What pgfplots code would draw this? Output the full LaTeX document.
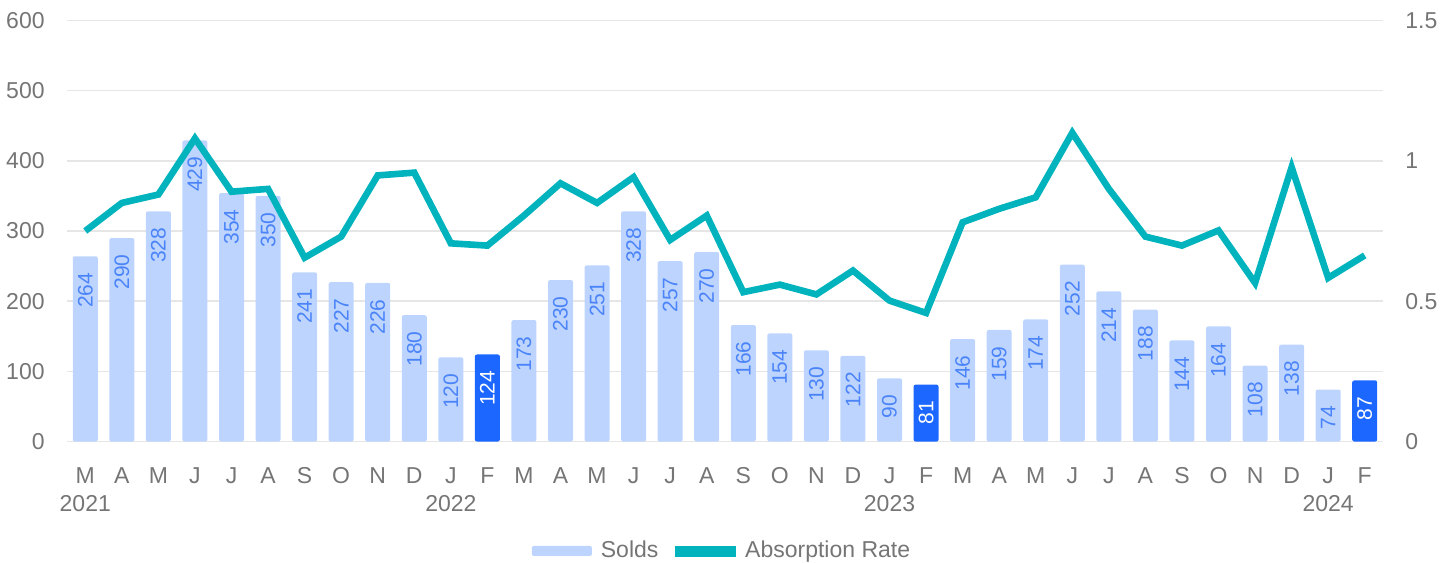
\documentclass[border=0pt]{standalone}
\usepackage{fontspec}
\setmainfont{Liberation Sans}
\usepackage{pgfplots}
\pgfplotsset{compat=1.18}
\definecolor{barlight}{HTML}{BDD4FE}
\definecolor{bardark}{HTML}{1C67FF}
\definecolor{lbl}{HTML}{4A84F8}
\definecolor{linec}{HTML}{00B3BD}
\definecolor{tickgray}{HTML}{757575}
\definecolor{gridc}{HTML}{E6E6E6}
\begin{document}
\begin{tikzpicture}[font=\fontsize{11.5}{14}\selectfont]
\begin{axis}[
  at={(33.5pt,60.25pt)}, anchor=south west,
  scale only axis, width=658pt, height=210.5pt,
  xmin=-0.5, xmax=35.5, ymin=0, ymax=600,
  ytick={0,100,...,600},
  xtick={0,...,35},
  xticklabels={{M\\2021},A,M,J,J,A,S,O,N,D,{J\\2022},F,M,A,M,J,J,A,S,O,N,D,{J\\2023},F,M,A,M,J,J,A,S,O,N,D,{J\\2024},F},
  axis line style={draw=none},
  major tick length=0pt,
  ymajorgrids, grid style={gridc, line width=0.75pt},
  tick label style={font=\fontsize{11.5}{14}\selectfont, text=tickgray},
  xticklabel style={align=center, anchor=north, inner sep=0pt, yshift=-12.75pt},
  yticklabel style={anchor=east, inner sep=0pt, xshift=-11pt},
  /pgf/number format/assume math mode=true,
  ybar, bar width=12.5pt,
  legend style={at={(0.4985,-0.26)}, anchor=center, draw=none, fill=none, legend columns=2,
    font=\fontsize{11.5}{14}\selectfont, text=tickgray,
    /tikz/every odd column/.append style={column sep=2.5pt},
    /tikz/every even column/.append style={column sep=6.5pt}},
  legend cell align=left,
]
\addplot[fill=barlight, draw=none, bar shift=0pt, rounded corners=1pt,
  nodes near coords,
  every node near coord/.append style={rotate=90, anchor=east, inner xsep=8pt, inner ysep=0pt,
     font=\fontsize{10.5}{12}\selectfont, text=lbl},
  legend image code/.code={\fill[barlight] (0pt,-2.5pt) rectangle (30pt,2.5pt);}]
coordinates {
(0,264) (1,290) (2,328) (3,429) (4,354) (5,350) (6,241) (7,227) (8,226) (9,180) (10,120)
(12,173) (13,230) (14,251) (15,328) (16,257) (17,270) (18,166) (19,154) (20,130) (21,122) (22,90)
(24,146) (25,159) (26,174) (27,252) (28,214) (29,188) (30,144) (31,164) (32,108) (33,138) (34,74)
};
\addlegendentry{Solds}
\addplot[fill=bardark, draw=none, bar shift=0pt, rounded corners=1pt, forget plot,
  nodes near coords,
  every node near coord/.append style={rotate=90, anchor=east, inner xsep=8pt, inner ysep=0pt,
     font=\fontsize{10.5}{12}\selectfont, text=white}]
coordinates {(11,124) (23,81) (35,87)};
\addlegendimage{legend image code/.code={\fill[linec] (0pt,-2.5pt) rectangle (30pt,2.5pt);}}
\addlegendentry{Absorption Rate}
\end{axis}
\begin{axis}[
  at={(33.5pt,60.25pt)}, anchor=south west,
  scale only axis, width=658pt, height=210.5pt,
  xmin=-0.5, xmax=35.5, ymin=0, ymax=1.5,
  ytick={0,0.5,1,1.5},
  xtick=\empty,
  yticklabel pos=right,
  axis line style={draw=none},
  major tick length=0pt,
  tick label style={font=\fontsize{11.5}{14}\selectfont, text=tickgray},
  yticklabel style={anchor=west, inner sep=0pt, xshift=11pt},
  /pgf/number format/assume math mode=true,
]
\addplot[linec, line width=3.3pt, line join=miter, mark=none] coordinates {
(0,0.75) (1,0.85) (2,0.88) (3,1.08) (4,0.89) (5,0.90) (6,0.655) (7,0.73) (8,0.948) (9,0.958)
(10,0.706) (11,0.698) (12,0.805) (13,0.92) (14,0.85) (15,0.942) (16,0.718) (17,0.805)
(18,0.532) (19,0.559) (20,0.524) (21,0.609) (22,0.502) (23,0.458) (24,0.781) (25,0.829)
(26,0.870) (27,1.10) (28,0.90) (29,0.73) (30,0.698) (31,0.752) (32,0.565) (33,0.977)
(34,0.583) (35,0.663)
};
\end{axis}
\pgfresetboundingbox
\path[use as bounding box] (0,0) rectangle (727.5pt,281pt);
\end{tikzpicture}
\end{document}
